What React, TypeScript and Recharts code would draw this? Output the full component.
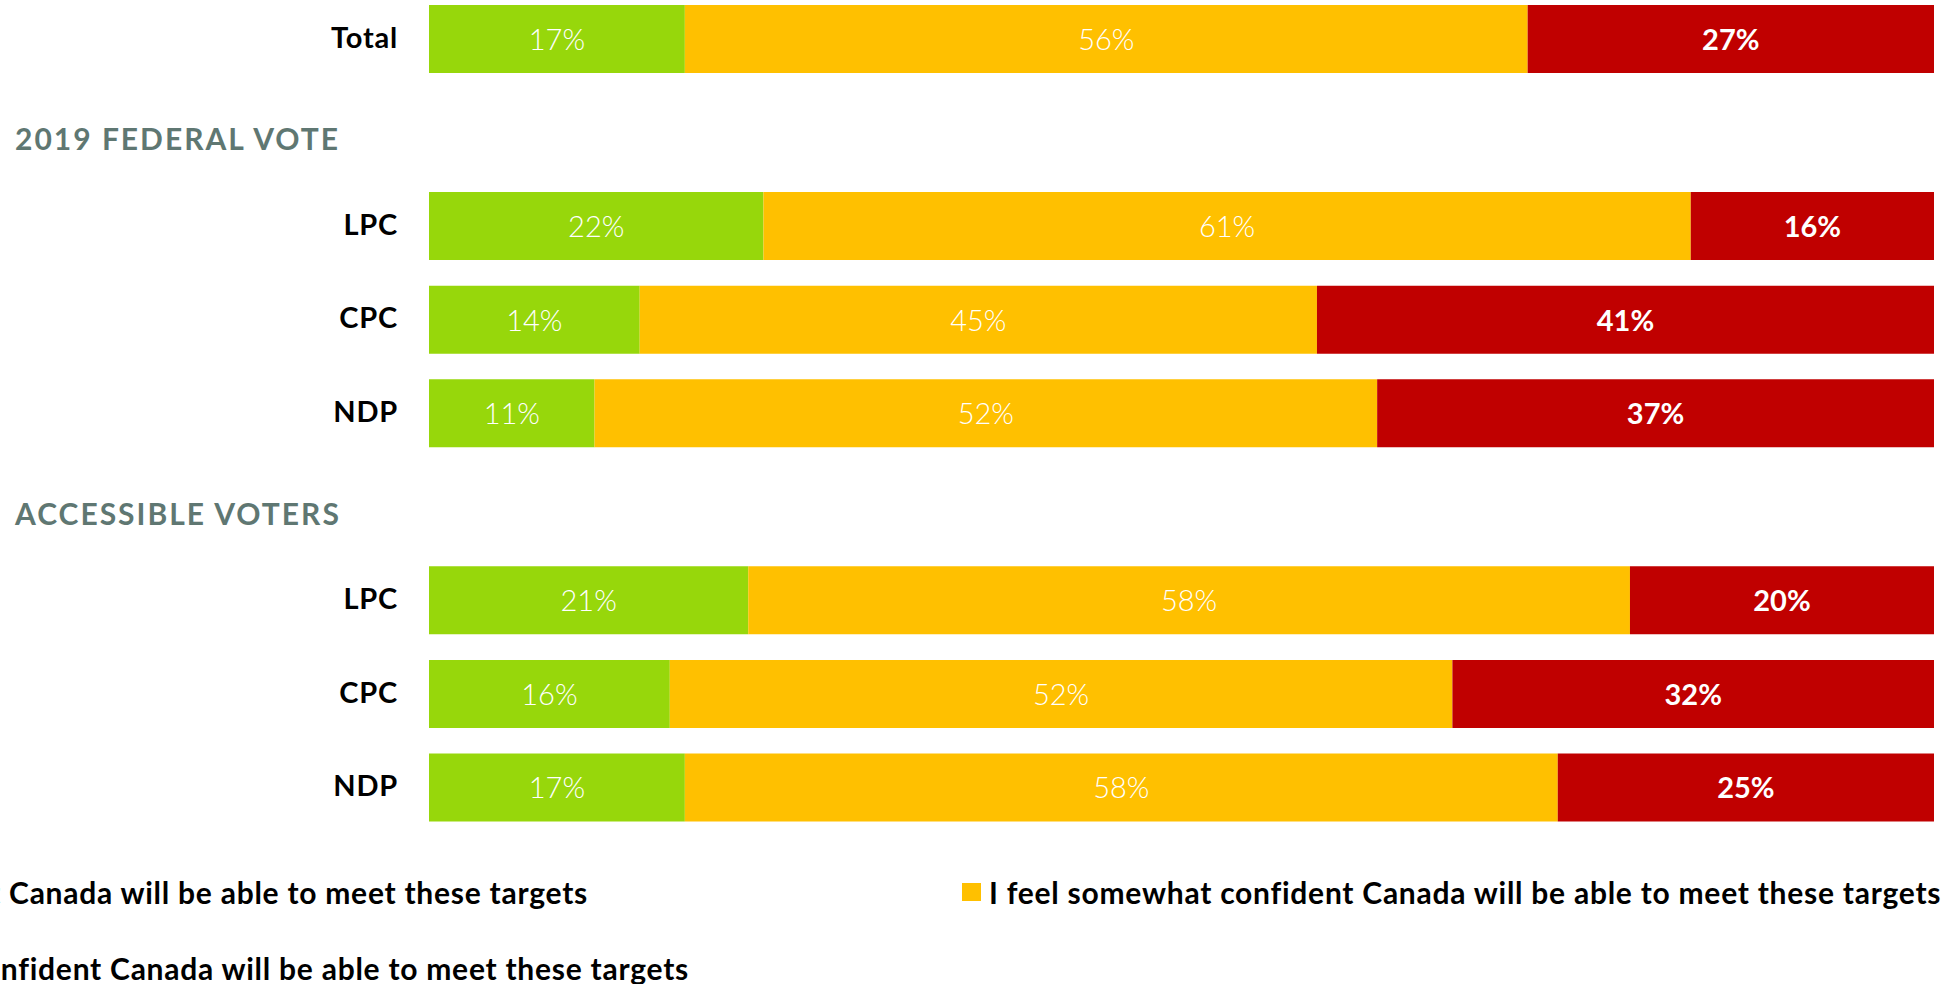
import { BarChart, Bar, XAxis, YAxis, Legend, LabelList } from "recharts";

const categories = ["Total", "2019 FEDERAL VOTE", "LPC", "CPC", "NDP", "ACCESSIBLE VOTERS", "LPC", "CPC", "NDP"];
const groupHeaders = ["2019 FEDERAL VOTE", "ACCESSIBLE VOTERS"];
const veryConfident = [17, null, 22, 14, 11, null, 21, 16, 17];
const somewhatConfident = [56, null, 61, 45, 52, null, 58, 52, 58];
const notConfident = [27, null, 16, 41, 37, null, 20, 32, 25];

const seriesNames = [
  "I feel very confident Canada will be able to meet these targets",
  "I feel somewhat confident Canada will be able to meet these targets",
  "I do not feel confident Canada will be able to meet these targets",
];

const GREEN = "#97d70b";
const YELLOW = "#ffc000";
const RED = "#c00000";
const FONT = "Lato, 'Open Sans', sans-serif";

const data = categories.map((label, i) => ({
  label,
  very: veryConfident[i],
  somewhat: somewhatConfident[i],
  not: notConfident[i],
}));

function CategoryTick(props: any) {
  const { x, y, payload } = props;
  const isHeader = groupHeaders.includes(payload.value);
  if (isHeader) {
    return (
      <text x={15} y={y} dy={18} fill="#5f7772" fontFamily={FONT} fontWeight={700} fontSize={30} letterSpacing={2} textAnchor="start">
        {payload.value}
      </text>
    );
  }
  return (
    <text x={x} y={y} dy={9} fill="#000" fontFamily={FONT} fontWeight={700} fontSize={29} letterSpacing={0.8} textAnchor="end">
      {payload.value}
    </text>
  );
}

function makeLabel(bold: boolean) {
  return (props: any) => {
    const { x, y, width, height, value } = props;
    if (value == null || !width) return null;
    return (
      <text
        x={x + width / 2}
        y={y + height / 2}
        dy={11}
        textAnchor="middle"
        fill="#fff"
        fontFamily={FONT}
        fontWeight={bold ? 700 : 300}
        fontSize={29}
      >
        {value}%
      </text>
    );
  };
}

// legend entries placed like the clipped original
const legendSpots = [
  { right: 1949 - 588, top: 875 },
  { left: 962, top: 875 },
  { right: 1949 - 689, top: 951 },
];

function LegendContent(props: any) {
  const { payload } = props;
  return (
    <div style={{ position: "relative", height: 0, width: 1949 }}>
      {payload.map((p: any, i: number) => (
        <div
          key={i}
          style={{
            position: "absolute",
            ...legendSpots[i],
            display: "flex",
            alignItems: "center",
            whiteSpace: "nowrap",
            fontFamily: FONT,
            fontWeight: 700,
            fontSize: 30,
            letterSpacing: 0.75,
            color: "#000",
            lineHeight: "34px",
          }}
        >
          <span style={{ display: "inline-block", width: 19, height: 18, background: p.color, marginRight: 8 }} />
          {p.value}
        </div>
      ))}
    </div>
  );
}

export default function App() {
  return (
    <div style={{ position: "absolute", left: 0, top: 0, width: 1949, height: 984, overflow: "hidden", background: "#fff" }}>
      <BarChart
        width={1949}
        height={984}
        data={data}
        layout="vertical"
        stackOffset="expand"
        margin={{ top: -8, right: 15, left: 0, bottom: 150 }}
      >
        <XAxis type="number" hide domain={[0, 1]} />
        <YAxis
          type="category"
          dataKey="label"
          width={429}
          axisLine={false}
          tickLine={false}
          tickSize={0}
          tickMargin={31}
          interval={0}
          tick={<CategoryTick />}
        />
        <Legend
          content={<LegendContent />}
          wrapperStyle={{ left: 0, top: 0, width: 1949, height: 0 }}
        />
        <Bar dataKey="very" name={seriesNames[0]} stackId="a" fill={GREEN} barSize={68} isAnimationActive={false}>
          <LabelList dataKey="very" content={makeLabel(false)} />
        </Bar>
        <Bar dataKey="somewhat" name={seriesNames[1]} stackId="a" fill={YELLOW} barSize={68} isAnimationActive={false}>
          <LabelList dataKey="somewhat" content={makeLabel(false)} />
        </Bar>
        <Bar dataKey="not" name={seriesNames[2]} stackId="a" fill={RED} barSize={68} isAnimationActive={false}>
          <LabelList dataKey="not" content={makeLabel(true)} />
        </Bar>
      </BarChart>
    </div>
  );
}
